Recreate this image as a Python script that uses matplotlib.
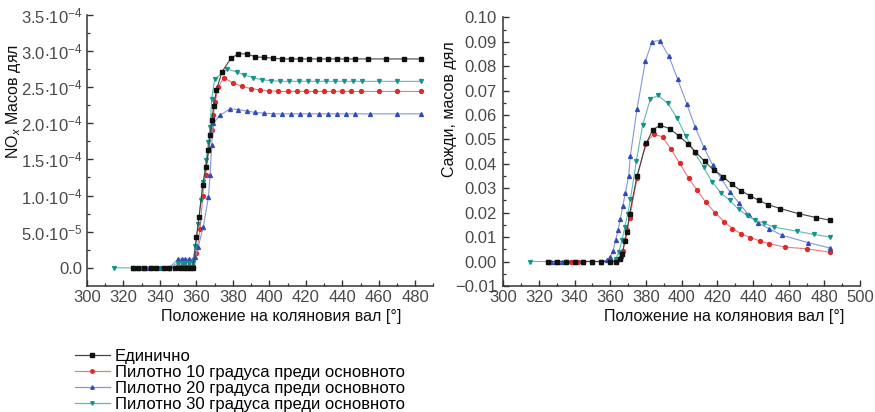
import matplotlib
matplotlib.use("Agg")
import matplotlib.pyplot as plt
from matplotlib.ticker import MultipleLocator, FixedLocator, FuncFormatter
from matplotlib.lines import Line2D

plt.rcParams['font.family'] = ['Liberation Sans', 'DejaVu Sans']
plt.rcParams['mathtext.fontset'] = 'custom'
plt.rcParams['mathtext.rm'] = 'Liberation Sans'
plt.rcParams['mathtext.it'] = 'Liberation Sans:italic'

# ---------------- data ----------------
labels = ["Единично",
          "Пилотно 10 градуса преди основното",
          "Пилотно 20 градуса преди основното",
          "Пилотно 30 градуса преди основното"]

# NOx (in units of 1e-4 mass fraction)
nox_black_x = [325, 328, 331, 335, 338, 342, 345, 348, 351, 353, 355, 356.5, 358,
               360, 361.5, 363.5, 365.3, 366.6, 367.5, 368.6, 369.5, 371, 374, 379,
               383, 388, 392, 397, 402, 407, 412, 417, 422, 427, 432, 437, 442, 447,
               454, 464, 474, 483]
nox_black_y = [0, 0, 0, 0, 0, 0, 0, 0, 0, 0, 0, 0, 0,
               0.42, 0.71, 1.15, 1.40, 1.63, 1.84, 2.05, 2.24, 2.46, 2.71, 2.90,
               2.96, 2.96, 2.92, 2.91, 2.90, 2.89, 2.89, 2.89, 2.89, 2.89, 2.89, 2.89, 2.89, 2.89,
               2.89, 2.89, 2.89, 2.89]

nox_red_x = [335, 338, 342, 345, 350, 352, 354, 356, 358, 360, 362, 363.5, 365, 367,
             368.4, 369.3, 370.2, 372, 375, 380, 385, 390, 395, 400, 405, 410, 415,
             420, 425, 430, 435, 440, 445, 450, 460, 470, 483]
nox_red_y = [0, 0, 0, 0, 0.03, 0.03, 0.03, 0.03, 0.03, 0.2, 0.54, 1.0, 1.28, 1.65,
             1.9, 2.11, 2.29, 2.5, 2.63, 2.56, 2.51, 2.48, 2.46, 2.45, 2.44, 2.44, 2.44,
             2.44, 2.44, 2.44, 2.44, 2.44, 2.44, 2.44, 2.44, 2.44, 2.44]

nox_blue_x = [325, 327, 329, 331, 333, 340, 345, 350, 352, 354, 356, 358, 359.5, 361,
              363.8, 366.6, 367.5, 368.4, 369.3, 372.9, 378.4, 383, 387.5, 392, 397,
              402, 407, 412, 417, 422, 427, 432, 437, 442, 447, 455, 470, 483]
nox_blue_y = [0, 0, 0, 0, 0, 0, 0, 0.12, 0.12, 0.12, 0.12, 0.12, 0.15, 0.29,
              0.57, 0.98, 1.28, 1.7, 2.0, 2.11, 2.2, 2.19, 2.17, 2.15, 2.14,
              2.13, 2.13, 2.13, 2.13, 2.13, 2.13, 2.13, 2.13, 2.13, 2.13, 2.13, 2.13, 2.13]

nox_cyan_x = [315, 325, 330, 335, 340, 345, 350, 352, 354, 356, 358, 359.5, 361, 362.5,
              363.8, 365.3, 366.6, 367.5, 368.4, 370, 377, 382, 386, 391, 396, 401, 406,
              411, 416, 421, 426, 431, 436, 441, 446, 451, 460, 470, 483]
nox_cyan_y = [0, 0, 0, 0, 0, 0, 0.07, 0.07, 0.07, 0.07, 0.07, 0.3, 0.61, 0.94,
              1.19, 1.49, 1.74, 1.95, 2.34, 2.61, 2.75, 2.71, 2.67, 2.63, 2.60, 2.59, 2.58,
              2.58, 2.58, 2.58, 2.58, 2.58, 2.58, 2.58, 2.58, 2.58, 2.58, 2.58, 2.58]

# Soot mass fraction
soot_black_x = [325, 330, 335, 340, 345, 350, 355, 360, 363, 365.7, 366.8, 368.1, 369.4,
                370.9, 375, 380.2, 383.9, 388, 393.3, 398.3, 403.5, 407.6, 412.9, 417.9,
                423.1, 428.2, 433.2, 438.4, 443.1, 448.3, 455.2, 465.5, 475.4, 483.2]
soot_black_y = [0, 0, 0, 0, 0, 0, 0, 0, 0, 0.001, 0.0032, 0.0082, 0.0121,
                0.0196, 0.035, 0.0485, 0.054, 0.0558, 0.0544, 0.0515, 0.0482, 0.045, 0.041,
                0.0375, 0.0348, 0.0316, 0.029, 0.0269, 0.0251, 0.0233, 0.0217, 0.0196,
                0.018, 0.0169]

soot_red_x = [335, 338, 342, 345, 350, 355, 360, 363, 366, 367, 368.5, 369.4, 370.9,
              375, 379.7, 384.3, 389.4, 394, 398.9, 404, 408.6, 413.6, 418.8, 423.9,
              428.5, 433.2, 438.4, 444, 449, 458, 470, 483.2]
soot_red_y = [0, 0, 0, 0, 0, 0, 0, 0, 0.0018, 0.0043, 0.0087, 0.0128, 0.018,
              0.034, 0.0482, 0.0522, 0.051, 0.046, 0.0402, 0.034, 0.0293, 0.0242, 0.020,
              0.0162, 0.0135, 0.0114, 0.0098, 0.0084, 0.0073, 0.0059, 0.0052, 0.0038]

soot_blue_x = [325, 327, 329, 331, 333, 340, 345, 350, 355, 358, 360, 361.6, 363, 364.4,
               365.7, 367, 368.5, 370.3, 371.3, 375, 379.7, 383.4, 387.7, 392.9, 397.8,
               403, 407.6, 412.3, 417.3, 422.2, 426.9, 432.3, 437.5, 443, 448.7, 456.5,
               471, 483.2]
soot_blue_y = [0, 0, 0, 0, 0, 0, 0, 0, 0, 0.0005, 0.0018, 0.0045, 0.0087, 0.0128,
               0.0176, 0.0227, 0.028, 0.035, 0.0433, 0.0625, 0.082, 0.090, 0.0905, 0.084,
               0.0746, 0.0643, 0.055, 0.047, 0.0396, 0.034, 0.0286, 0.0238, 0.019, 0.0158,
               0.0135, 0.0107, 0.0077, 0.0055]

soot_cyan_x = [315, 325, 330, 335, 340, 345, 350, 355, 360, 363, 364.7, 366.6, 368.1,
               369.8, 371.3, 374.6, 378.2, 382.5, 386.8, 392.2, 397.4, 402.2, 407.3,
               412.3, 417, 422.2, 426.9, 431.9, 436.6, 441.2, 445.9, 451.5, 464.6, 473.9,
               483.2]
soot_cyan_y = [0, 0, 0, 0, 0, 0, 0, 0, 0, 0.001, 0.0038, 0.0087, 0.014,
               0.0196, 0.0255, 0.041, 0.056, 0.0666, 0.068, 0.0648, 0.0588, 0.0515, 0.0446,
               0.0386, 0.0327, 0.0279, 0.0251, 0.0214, 0.019, 0.0169, 0.0158, 0.0141,
               0.0124, 0.0111, 0.010]

# ---------------- style ----------------
line_colors = ['#444444', '#f07a78', '#8796d8', '#5cbdb4']
mark_colors = ['#111111', '#e02a2a', '#2f4cb8', '#13958a']
markers = ['s', 'o', '^', 'v']
text_col = '#111111'
tick_col = '#4a4a4a'

fig = plt.figure(figsize=(8.75, 4.12), dpi=100)
ax1 = fig.add_axes([0.0994, 0.306, 0.396, 0.658])
ax2 = fig.add_axes([0.575, 0.306, 0.408, 0.652])

nox_sets = [(nox_black_x, nox_black_y), (nox_red_x, nox_red_y),
            (nox_blue_x, nox_blue_y), (nox_cyan_x, nox_cyan_y)]
soot_sets = [(soot_black_x, soot_black_y), (soot_red_x, soot_red_y),
             (soot_blue_x, soot_blue_y), (soot_cyan_x, soot_cyan_y)]

for i, (x, y) in enumerate(nox_sets):
    ax1.plot(x, [v * 1e-4 for v in y], color=line_colors[i], lw=0.8,
             marker=markers[i], ms=2.8, mfc=mark_colors[i], mec=mark_colors[i], zorder=3 + (i == 0))
for i, (x, y) in enumerate(soot_sets):
    ax2.plot(x, y, color=line_colors[i], lw=0.8,
             marker=markers[i], ms=2.8, mfc=mark_colors[i], mec=mark_colors[i], zorder=3 + (i == 0))

for ax in (ax1, ax2):
    for s in ('top', 'right'):
        ax.spines[s].set_visible(False)
    for s in ('left', 'bottom'):
        ax.spines[s].set_color('#333333')
        ax.spines[s].set_linewidth(1.1)
    ax.tick_params(which='major', direction='in', length=4, width=1.0, pad=3,
                   colors='#333333', labelsize=12, labelcolor=tick_col)
    ax.tick_params(which='minor', direction='in', length=2.5, width=0.9, colors='#333333')
    ax.xaxis.set_minor_locator(MultipleLocator(10))
    ax.set_xlabel("Положение на коляновия вал [°]", fontsize=11.5, color=text_col)

# left axes
ax1.set_xlim(300, 490)
ax1.set_ylim(-0.25e-4, 3.5e-4)
ax1.xaxis.set_major_locator(FixedLocator(list(range(300, 481, 20))))
ax1.yaxis.set_major_locator(FixedLocator([i * 0.5e-4 for i in range(8)]))
ax1.yaxis.set_minor_locator(FixedLocator([i * 0.25e-4 for i in range(15)]))

def nox_fmt(v, pos):
    if abs(v) < 1e-12:
        return "0.0"
    if v < 0.99e-4:
        return r"$\mathregular{%.1f{\cdot}10^{-5}}$" % (v / 1e-5)
    return r"$\mathregular{%.1f{\cdot}10^{-4}}$" % (v / 1e-4)

ax1.yaxis.set_major_formatter(FuncFormatter(nox_fmt))
ax1.set_ylabel(r"NO$_x$ Масов дял", fontsize=11.5, color=text_col)
ax1.yaxis.set_label_coords(-0.184, 0.68)
ax1.xaxis.set_label_coords(0.56, -0.085)

# right axes
ax2.set_xlim(300, 500)
ax2.set_ylim(-0.01, 0.10)
ax2.xaxis.set_major_locator(MultipleLocator(20))
ax2.yaxis.set_major_locator(MultipleLocator(0.01))
ax2.yaxis.set_minor_locator(MultipleLocator(0.005))
ax2.tick_params(axis='y', which='major', pad=4.5)
ax2.yaxis.set_major_formatter(FuncFormatter(lambda v, p: ("\u2212%.2f" % abs(v)) if v < -1e-9 else "%.2f" % abs(v)))
ax2.set_ylabel("Сажди, масов дял", fontsize=11.5, color=text_col)
ax2.yaxis.set_label_coords(-0.129, 0.66)
ax2.xaxis.set_label_coords(0.62, -0.085)

# legend
handles = [Line2D([], [], color=line_colors[i], lw=0.9, marker=markers[i], ms=2.5,
                  mfc=mark_colors[i], mec=mark_colors[i]) for i in range(4)]
fig.legend(handles, labels, loc='upper left', bbox_to_anchor=(0.076, 0.173),
           frameon=False, fontsize=12, handlelength=2.1, handletextpad=0.3,
           labelspacing=0.05, borderpad=0, markerscale=1.0, numpoints=1)

fig.savefig("out.png", dpi=100)
